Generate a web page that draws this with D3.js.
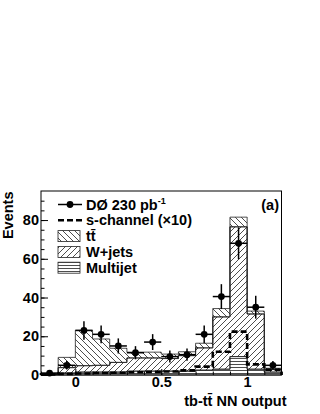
<!DOCTYPE html>
<html>
<head>
<meta charset="utf-8">
<script src="https://cdn.jsdelivr.net/npm/d3@7"></script>
<style>
  body { margin: 0; background: #fff; }
  svg text { font-family: "Liberation Sans", Arial, Helvetica, sans-serif; font-weight: bold; fill: #000; }
</style>
</head>
<body>
<div id="chart"></div>
<script>
// histogram bins (NN output)
var binEdges = [-0.2, -0.1, 0, 0.1, 0.2, 0.3, 0.4, 0.5, 0.6, 0.7, 0.8, 0.9, 1.0, 1.1, 1.2];

// stacked backgrounds, events per bin
var multijet = [0.2, 1.0, 1.5, 1.5, 1.5, 2.0, 2.0, 2.0, 2.0, 2.5, 3.0, 9.5, 3.0, 1.5];
var wjets    = [0.2, 2.8, 3.3, 3.5, 5.0, 6.8, 6.8, 6.5, 8.0, 11.5, 27.0, 67.0, 28.5, 1.3];
var ttbar    = [0.2, 5.3, 18.3, 13.6, 7.3, 3.0, 3.0, 2.3, 2.0, 2.4, 4.3, 5.0, 1.5, 0.7];

// s-channel signal scaled x10
var schannel10 = [0.3, 0.6, 0.8, 1.0, 1.2, 1.4, 1.6, 1.8, 2.4, 4.3, 12.0, 22.4, 5.5, 2.8];

// data
var dataCounts = [1, 5, 23, 21, 15, 11.5, 17, 9.5, 10.5, 21, 40.5, 68, 35, 5];
var dataErrors = [1.0, 2.2, 4.8, 4.6, 3.9, 3.4, 4.1, 3.1, 3.2, 4.6, 6.4, 8.2, 5.9, 2.2];

var xTicks = [0, 0.5, 1];
var yTicks = [0, 20, 40, 60, 80];
var legendLabels = ['D\u00d8 230 pb', 's-channel (\u00d710)', 'tt\u0304', 'W+jets', 'Multijet'];

var width = 320, height = 414;
var plot = {left: 41, right: 281.5, top: 191, bottom: 375};

var svg = d3.select('#chart').append('svg')
    .attr('width', width)
    .attr('height', height);

svg.append('rect').attr('width', width).attr('height', height).attr('fill', '#fff');

var x = d3.scaleLinear().domain([-0.2, 1.2]).range([plot.left, plot.right]);
var y = d3.scaleLinear().domain([0, 95]).range([plot.bottom, plot.top]);

// hatch patterns
var defs = svg.append('defs');
function hatch(id, d, size) {
    defs.append('pattern')
        .attr('id', id)
        .attr('patternUnits', 'userSpaceOnUse')
        .attr('width', size)
        .attr('height', size)
        .append('path')
        .attr('d', d)
        .attr('stroke', '#000')
        .attr('stroke-width', 0.7)
        .attr('fill', 'none');
}
hatch('p-ttbar', 'M0,0L6,6M-1,5L1,7M5,-1L7,1', 6);
hatch('p-wjets', 'M0,6L6,0M-1,1L1,-1M5,7L7,5', 6);
hatch('p-multijet', 'M0,1.5L3,1.5', 3);

// stacked histogram
var rows = multijet.map(function(v, i) {
    return {multijet: v, wjets: wjets[i], ttbar: ttbar[i]};
});
var series = d3.stack().keys(['multijet', 'wjets', 'ttbar'])(rows);

var area = d3.area()
    .curve(d3.curveStepAfter)
    .x(d => x(d.x))
    .y0(d => y(d.y0))
    .y1(d => y(d.y1));

var last = binEdges.length - 1;
series.forEach(function(s) {
    var pts = s.map((d, i) => ({x: binEdges[i], y0: d[0], y1: d[1]}));
    pts.push({x: binEdges[last], y0: s[s.length - 1][0], y1: s[s.length - 1][1]});
    svg.append('path')
        .attr('d', area(pts))
        .attr('fill', 'url(#p-' + s.key + ')')
        .attr('stroke', '#222')
        .attr('stroke-width', 0.8);
});

// s-channel dashed outline
var line = d3.line()
    .curve(d3.curveStepAfter)
    .x(d => x(d.x))
    .y(d => y(d.v));
var sPts = [{x: binEdges[0], v: 0}]
    .concat(schannel10.map((v, i) => ({x: binEdges[i], v: v})))
    .concat([{x: binEdges[last], v: schannel10[schannel10.length - 1]}, {x: binEdges[last], v: 0}]);
svg.append('path')
    .attr('d', line(sPts))
    .attr('fill', 'none')
    .attr('stroke', '#000')
    .attr('stroke-width', 2.6)
    .attr('stroke-dasharray', '6,3');

// axes, ticks inside like ROOT
function styleAxis(g) {
    g.select('.domain').remove();
    g.selectAll('line').attr('stroke', '#000').attr('stroke-width', 1);
    g.selectAll('text').attr('font-size', 14.5).attr('font-family', null);
}
svg.append('g')
    .attr('transform', 'translate(' + plot.left + ',0)')
    .call(d3.axisLeft(y).tickValues(d3.range(0, 95, 5)).tickSize(-3.5).tickFormat(''))
    .call(styleAxis);
svg.append('g')
    .attr('transform', 'translate(' + plot.left + ',0)')
    .call(d3.axisLeft(y).tickValues(yTicks).tickSize(-7).tickPadding(2))
    .call(styleAxis);
svg.append('g')
    .attr('transform', 'translate(0,' + plot.bottom + ')')
    .call(d3.axisBottom(x).tickValues(binEdges).tickSize(-3.5).tickFormat(''))
    .call(styleAxis);
svg.append('g')
    .attr('transform', 'translate(0,' + plot.bottom + ')')
    .call(d3.axisBottom(x).tickValues(xTicks).tickSize(-6).tickPadding(2).tickFormat(d3.format('')))
    .call(styleAxis);

// frame
svg.append('rect')
    .attr('x', plot.left)
    .attr('y', plot.top)
    .attr('width', plot.right - plot.left)
    .attr('height', plot.bottom - plot.top)
    .attr('fill', 'none')
    .attr('stroke', '#000')
    .attr('stroke-width', 1);

// data points with errors
var pts = svg.append('g');
dataCounts.forEach(function(v, i) {
    var cx = x((binEdges[i] + binEdges[i + 1]) / 2);
    pts.append('line')
        .attr('x1', x(binEdges[i])).attr('x2', x(binEdges[i + 1]))
        .attr('y1', y(v)).attr('y2', y(v))
        .attr('stroke', '#000').attr('stroke-width', 1.5);
    pts.append('line')
        .attr('x1', cx).attr('x2', cx)
        .attr('y1', y(Math.max(0, v - dataErrors[i]))).attr('y2', y(v + dataErrors[i]))
        .attr('stroke', '#000').attr('stroke-width', 1.5);
    pts.append('circle')
        .attr('cx', cx).attr('cy', y(v)).attr('r', 3.4)
        .attr('fill', '#000');
});

// legend
var lg = svg.append('g');
var rowY = [204.5, 220.3, 236.1, 251.9, 267.7];
lg.append('line').attr('x1', 58).attr('x2', 82).attr('y1', rowY[0]).attr('y2', rowY[0])
    .attr('stroke', '#000').attr('stroke-width', 1.5);
lg.append('circle').attr('cx', 70).attr('cy', rowY[0]).attr('r', 3.4).attr('fill', '#000');
lg.append('line').attr('x1', 58).attr('x2', 82).attr('y1', rowY[1]).attr('y2', rowY[1])
    .attr('stroke', '#000').attr('stroke-width', 2.6).attr('stroke-dasharray', '6,3');
['ttbar', 'wjets', 'multijet'].forEach(function(k, j) {
    lg.append('rect')
        .attr('x', 58).attr('y', rowY[j + 2] - 5.5)
        .attr('width', 22).attr('height', 11)
        .attr('fill', 'url(#p-' + k + ')')
        .attr('stroke', '#222').attr('stroke-width', 0.8);
});
legendLabels.forEach(function(t, i) {
    var txt = lg.append('text')
        .attr('x', 86).attr('y', rowY[i] + 5)
        .attr('font-size', 14.5)
        .text(t);
    if (i === 0) {
        txt.append('tspan').attr('font-size', 9).attr('dy', -6).text('-1');
    }
});

svg.append('text')
    .attr('x', 279).attr('y', 209.5)
    .attr('text-anchor', 'end')
    .attr('font-size', 14.5)
    .text('(a)');

// axis titles
svg.append('text')
    .attr('transform', 'translate(13.3,191.5) rotate(-90)')
    .attr('text-anchor', 'end')
    .attr('font-size', 14.5)
    .text('Events');
svg.append('text')
    .attr('x', 286.5).attr('y', 405.5)
    .attr('text-anchor', 'end')
    .attr('font-size', 14.5)
    .text('tb-tt\u0304 NN output');
</script>
</body>
</html>
